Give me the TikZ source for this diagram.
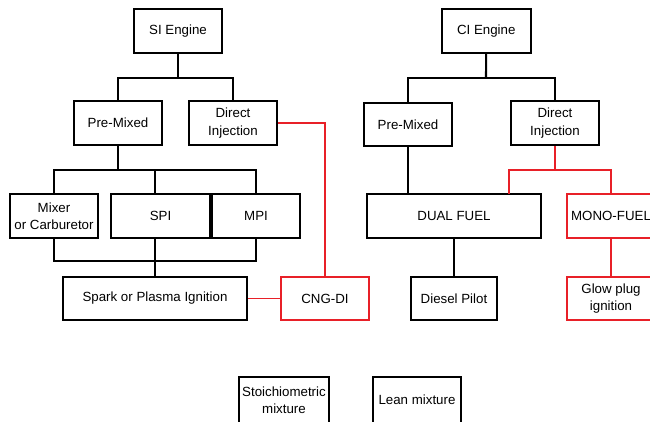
\documentclass[tikz,border=0pt]{standalone}
\usepackage{fontspec}
\setmainfont{Liberation Sans}
\definecolor{myred}{RGB}{232,32,40}
\begin{document}
\begin{tikzpicture}[x=1pt,y=-1pt,
  box/.style={draw=black,line width=2.1pt,minimum width=88pt,minimum height=44pt,inner sep=1pt,align=center,font=\fontsize{13.3}{17.5}\selectfont},
  rbox/.style={box,draw=myred,line width=1.8pt},
  blk/.style={draw=black,line width=2.1pt},
  rln/.style={draw=myred,line width=1.7pt}]
\clip (0,0) rectangle (650,421);
\fill[white] (0,0) rectangle (650,421);
% SI side
\node[box] (si) at (178,31) {SI Engine};
\node[box] (sipm) at (118,123) {Pre-Mixed};
\node[box] (sidi) at (233,123) {Direct\\Injection};
\node[box] (mix) at (54,216) {Mixer\\or Carburetor};
\node[box,minimum width=99pt] (spi) at (160.5,216) {SPI};
\node[box] (mpi) at (256,216) {MPI};
\node[box,minimum width=184pt,minimum height=43pt] (spark) at (155,298.5) {Spark or Plasma Ignition};
\node[rbox,minimum height=43pt] (cng) at (325,298.5) {CNG-DI};
\coordinate (j1) at (178,78);
\coordinate (j2) at (118,170);
\coordinate (j3) at (155,261);
\draw[blk] (si) -- (j1);
\draw[blk] (sipm.north) |- (j1) -| (sidi.north);
\draw[blk] (sipm) -- (j2);
\draw[blk] (mix.north) |- (j2) -| (mpi.north);
\draw[blk] (j2 -| spark.north) -- (spi.north -| spark.north);
\draw[blk] (mix.south) |- (j3) -| (mpi.south);
\draw[blk] (spi.south -| spark.north) -- (spark.north);
\draw[rln] (sidi.east) -| (cng.north);
\draw[rln] (spark) -- (cng);
% CI side
\node[box,minimum width=89pt] (ci) at (486.3,31) {CI Engine};
\node[box,minimum height=43pt] (cipm) at (408,124.5) {Pre-Mixed};
\node[box] (cidi) at (555,123) {Direct\\Injection};
\node[box,minimum width=174pt] (dual) at (454,216) {DUAL FUEL};
\node[rbox] (mono) at (611,216) {MONO-FUEL};
\node[box,minimum width=86pt,minimum height=43pt] (diesel) at (454,298.5) {Diesel Pilot};
\node[rbox,minimum height=43pt] (glow) at (611,298.5) {Glow plug\\ignition};
\coordinate (j4) at (486,78);
\coordinate (j5) at (555,170);
\coordinate (dl) at (509,194);
\draw[blk] (ci) -- (j4);
\draw[blk] (cipm.north) |- (j4) -| (cidi.north);
\draw[blk] (cipm.south) -- (dual.north -| cipm.south);
\draw[rln] (cidi) -- (j5);
\draw[rln] (dl) |- (j5) -| (mono.north);
\draw[blk] (dual) -- (diesel);
\draw[rln] (mono) -- (glow);
% legend
\node[box,minimum width=90pt,minimum height=46pt,line width=1.8pt] (sto) at (284,400) {Stoichiometric\\mixture};
\node[box,minimum height=46pt,line width=1.8pt] (lean) at (417,400) {Lean mixture};
\end{tikzpicture}
\end{document}
